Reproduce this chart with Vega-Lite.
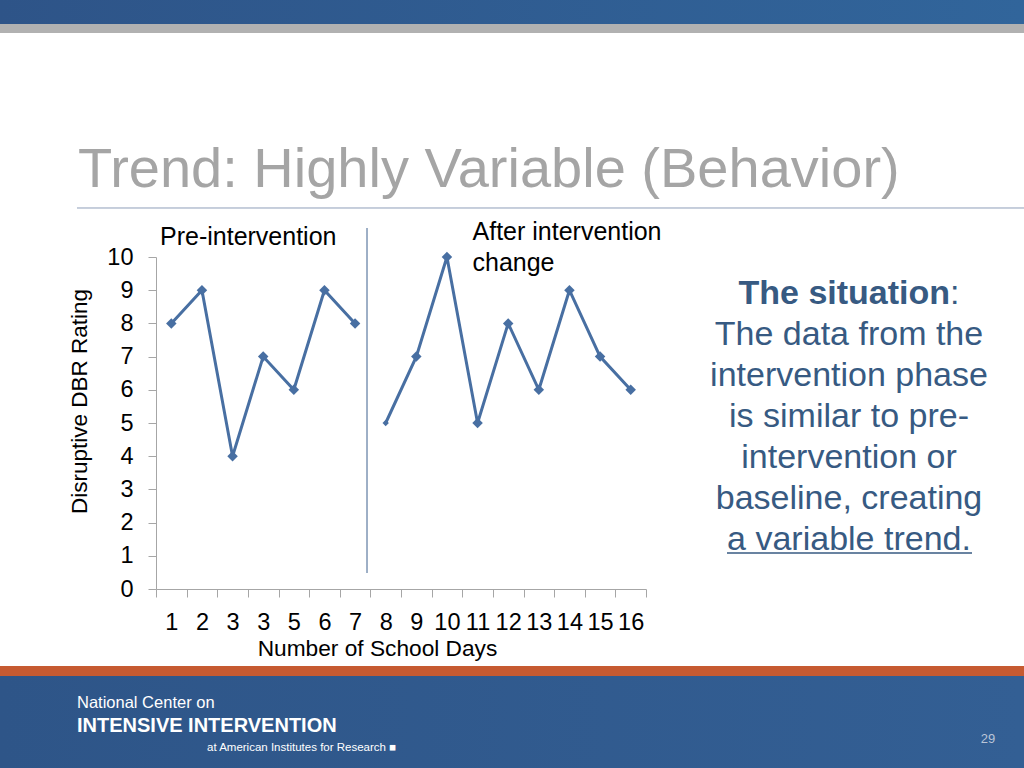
{
  "$schema": "https://vega.github.io/schema/vega-lite/v6.json",
  "width": 490,
  "height": 332,
  "autosize": {"type": "none"},
  "padding": {"left": 156, "top": 257, "right": 378, "bottom": 179},
  "background": "white",
  "config": {"view": {"stroke": null}, "font": "Liberation Sans", "axis": {"labelOverlap": false}},
  "datasets": {
    "ratings": [
      {"x": 1, "y": 8, "phase": "pre"},
      {"x": 2, "y": 9, "phase": "pre"},
      {"x": 3, "y": 4, "phase": "pre"},
      {"x": 4, "y": 7, "phase": "pre"},
      {"x": 5, "y": 6, "phase": "pre"},
      {"x": 6, "y": 9, "phase": "pre"},
      {"x": 7, "y": 8, "phase": "pre"},
      {"x": 8, "y": 5, "phase": "post"},
      {"x": 9, "y": 7, "phase": "post"},
      {"x": 10, "y": 10, "phase": "post"},
      {"x": 11, "y": 5, "phase": "post"},
      {"x": 12, "y": 8, "phase": "post"},
      {"x": 13, "y": 6, "phase": "post"},
      {"x": 14, "y": 9, "phase": "post"},
      {"x": 15, "y": 7, "phase": "post"},
      {"x": 16, "y": 6, "phase": "post"}
    ]
  },
  "encoding": {
    "x": {
      "field": "x", "type": "quantitative",
      "scale": {"domain": [0.5, 16.5], "nice": false, "zero": false},
      "axis": {
        "title": "Number of School Days",
        "values": [0.5, 1.5, 2.5, 3.5, 4.5, 5.5, 6.5, 7.5, 8.5, 9.5, 10.5, 11.5, 12.5, 13.5, 14.5, 15.5, 16.5],
        "labelExpr": "datum.value > 16 ? '' : (datum.value == 3.5 ? '3' : toString(datum.value + 0.5))",
        "labelOffset": 15.3,
        "labelOverlap": false,
        "labelBound": false,
        "labelFlush": false,
        "labelFont": "Liberation Sans",
        "labelFontSize": 23.5,
        "labelColor": "#000000",
        "labelPadding": 13,
        "labelBaseline": "top",
        "tickSize": 8,
        "tickColor": "#A6A6A6",
        "domainColor": "#A6A6A6",
        "grid": false,
        "titleFont": "Liberation Sans",
        "titleFontSize": 22.7,
        "titleFontWeight": "normal",
        "titleColor": "#000000",
        "titleX": 221,
        "titleY": 66,
        "titleAlign": "center",
        "titleBaseline": "alphabetic"
      }
    },
    "y": {
      "field": "y", "type": "quantitative",
      "scale": {"domain": [0, 10], "nice": false},
      "axis": {
        "title": "Disruptive DBR Rating",
        "values": [0, 1, 2, 3, 4, 5, 6, 7, 8, 9, 10],
        "labelOverlap": false,
        "labelFont": "Liberation Sans",
        "labelFontSize": 23.5,
        "labelColor": "#000000",
        "labelPadding": 15,
        "tickSize": 8,
        "tickColor": "#A6A6A6",
        "domainColor": "#A6A6A6",
        "grid": false,
        "titleFont": "Liberation Sans",
        "titleFontSize": 22.5,
        "titleFontWeight": "normal",
        "titleColor": "#000000",
        "titleAngle": -90,
        "titleX": -70,
        "titleY": 144,
        "titleAlign": "center",
        "titleBaseline": "alphabetic"
      }
    }
  },
  "layer": [
    {
      "data": {"values": [{"x": -4.594, "x2": 28.843, "y": 17.741, "y2": 17.018}]},
      "mark": {"type": "rect", "color": {"gradient": "linear", "x1": 0, "x2": 1, "y1": 0, "y2": 0, "stops": [{"offset": 0, "color": "#2E5488"}, {"offset": 1, "color": "#31659B"}]}},
      "encoding": {"x2": {"field": "x2"}, "y2": {"field": "y2"}}
    },
    {
      "data": {"values": [{"x": -4.594, "x2": 28.843, "y": 17.018, "y2": 16.747}]},
      "mark": {"type": "rect", "color": "#B1B1B1"},
      "encoding": {"x2": {"field": "x2"}, "y2": {"field": "y2"}}
    },
    {
      "data": {"values": [{"x": -4.594, "x2": 28.843, "y": -2.319, "y2": -2.62}]},
      "mark": {"type": "rect", "color": "#C65A31"},
      "encoding": {"x2": {"field": "x2"}, "y2": {"field": "y2"}}
    },
    {
      "data": {"values": [{"x": -4.594, "x2": 28.843, "y": -2.62, "y2": -5.392}]},
      "mark": {"type": "rect", "color": {"gradient": "linear", "x1": 0, "x2": 1, "y1": 0, "y2": 0, "stops": [{"offset": 0, "color": "#2E5588"}, {"offset": 1, "color": "#335F94"}]}},
      "encoding": {"x2": {"field": "x2"}, "y2": {"field": "y2"}}
    },
    {
      "data": {"values": [{"x": -2.08, "x2": 28.843, "y": 11.476}]},
      "mark": {"type": "rule", "color": "#8E9FBA", "strokeWidth": 1},
      "encoding": {"x2": {"field": "x2"}}
    },
    {
      "data": {"values": [{"x": 7.39, "y": 10.873, "y2": 0.482}]},
      "mark": {"type": "rule", "color": "#7E95B4", "strokeWidth": 1.5},
      "encoding": {"y2": {"field": "y2"}}
    },
    {
      "data": {"name": "ratings"},
      "mark": {"type": "line", "color": "#486FA2", "strokeWidth": 3},
      "encoding": {"detail": {"field": "phase", "type": "nominal"}}
    },
    {
      "data": {"name": "ratings"},
      "mark": {"type": "point", "shape": "diamond", "filled": true, "color": "#486FA2", "opacity": 1},
      "encoding": {
        "size": {"condition": {"test": "datum.x == 8", "value": 40}, "value": 110}
      }
    },
    {
      "data": {"values": [
        {"x": 0.6306, "y": 10.361, "t": "Pre-intervention"},
        {"x": 10.835, "y": 10.512, "t": "After intervention"},
        {"x": 10.835, "y": 9.578, "t": "change"}
      ]},
      "mark": {"type": "text", "align": "left", "baseline": "alphabetic", "font": "Liberation Sans", "fontSize": 25, "color": "#000000"},
      "encoding": {"text": {"field": "t"}}
    },
    {
      "data": {"values": [{"x": -2.047, "y": 12.108, "t": "Trend: Highly Variable (Behavior)"}]},
      "mark": {"type": "text", "align": "left", "baseline": "alphabetic", "font": "Liberation Sans", "fontSize": 56, "color": "#A5A5A5"},
      "encoding": {"text": {"field": "t"}}
    },
    {
      "data": {"values": [{"x": 19.52, "y": 8.584, "t": "The situation"}]},
      "mark": {"type": "text", "align": "left", "baseline": "alphabetic", "font": "Liberation Sans", "fontSize": 34, "fontWeight": "bold", "color": "#375A82"},
      "encoding": {"text": {"field": "t"}}
    },
    {
      "data": {"values": [{"x": 26.427, "y": 8.584, "t": ":"}]},
      "mark": {"type": "text", "align": "left", "baseline": "alphabetic", "font": "Liberation Sans", "fontSize": 34, "color": "#375A82"},
      "encoding": {"text": {"field": "t"}}
    },
    {
      "data": {"values": [
        {"x": 23.129, "y": 7.349, "t": "The data from the"},
        {"x": 23.129, "y": 6.114, "t": "intervention phase"},
        {"x": 23.129, "y": 4.88, "t": "is similar to pre-"},
        {"x": 23.129, "y": 3.645, "t": "intervention or"},
        {"x": 23.129, "y": 2.41, "t": "baseline, creating"},
        {"x": 23.129, "y": 1.175, "t": "a variable trend."}
      ]},
      "mark": {"type": "text", "align": "center", "baseline": "alphabetic", "font": "Liberation Sans", "fontSize": 34, "color": "#375A82"},
      "encoding": {"text": {"field": "t"}}
    },
    {
      "data": {"values": [{"x": 19.145, "x2": 27.145, "y": 1.084}]},
      "mark": {"type": "rule", "color": "#375A82", "strokeWidth": 1.6},
      "encoding": {"x2": {"field": "x2"}}
    },
    {
      "data": {"values": [{"x": -2.08, "y": -3.584, "t": "National Center on"}]},
      "mark": {"type": "text", "align": "left", "baseline": "alphabetic", "font": "Liberation Sans", "fontSize": 16.5, "color": "#FFFFFF"},
      "encoding": {"text": {"field": "t"}}
    },
    {
      "data": {"values": [{"x": -2.08, "y": -4.307, "t": "INTENSIVE INTERVENTION"}]},
      "mark": {"type": "text", "align": "left", "baseline": "alphabetic", "font": "Liberation Sans", "fontSize": 20, "fontWeight": "bold", "color": "#FFFFFF"},
      "encoding": {"text": {"field": "t"}}
    },
    {
      "data": {"values": [{"x": 2.165, "y": -4.88, "t": "at American Institutes for Research ■"}]},
      "mark": {"type": "text", "align": "left", "baseline": "alphabetic", "font": "Liberation Sans", "fontSize": 11.5, "color": "#FFFFFF"},
      "encoding": {"text": {"field": "t"}}
    },
    {
      "data": {"values": [{"x": 27.668, "y": -4.639, "t": "29"}]},
      "mark": {"type": "text", "align": "center", "baseline": "alphabetic", "font": "Liberation Sans", "fontSize": 13, "color": "#B9C5D8"},
      "encoding": {"text": {"field": "t"}}
    }
  ]
}
